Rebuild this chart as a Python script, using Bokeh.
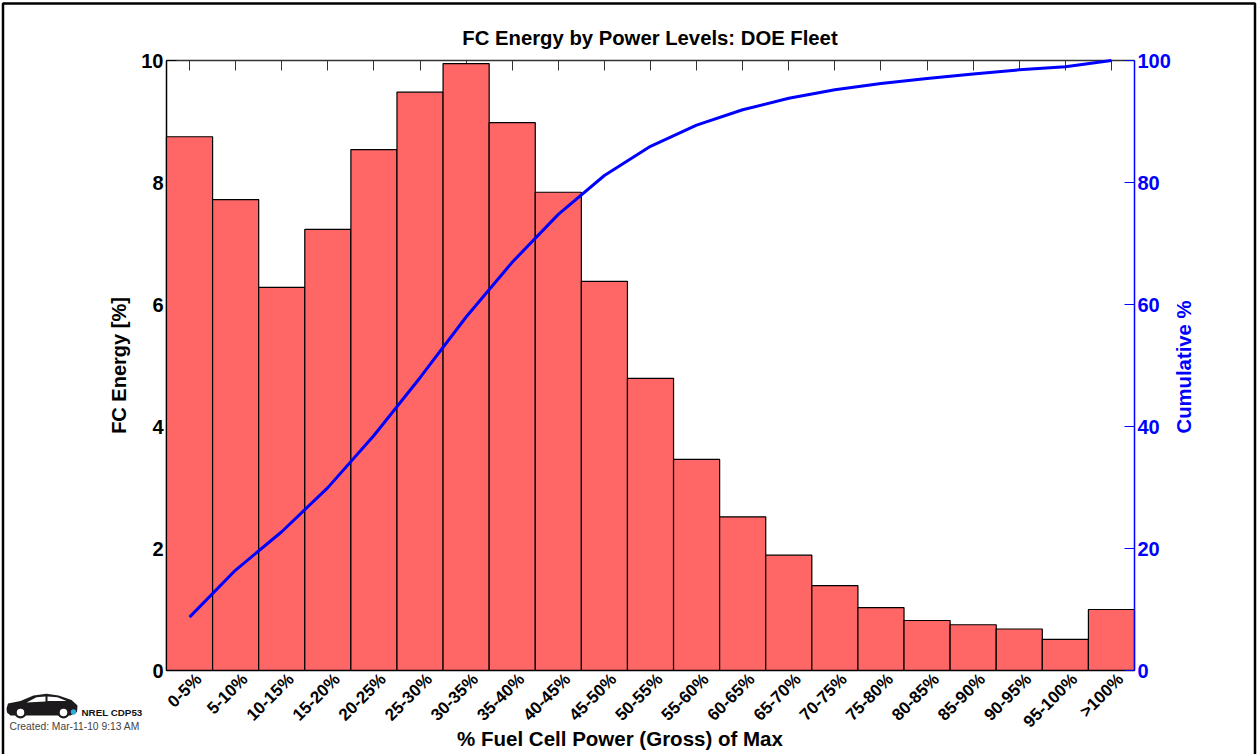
import math
from bokeh.core.properties import value
from bokeh.embed import file_html
from bokeh.models import FixedTicker, LinearAxis, Range1d
from bokeh.plotting import figure
from bokeh.resources import INLINE

categories = ["0-5%", "5-10%", "10-15%", "15-20%", "20-25%", "25-30%", "30-35%", "35-40%", "40-45%",
              "45-50%", "50-55%", "55-60%", "60-65%", "65-70%", "70-75%", "75-80%", "80-85%", "85-90%",
              "90-95%", "95-100%", ">100%"]
energy = [8.75, 7.72, 6.28, 7.23, 8.54, 9.48, 9.95, 8.98, 7.84, 6.38, 4.79, 3.46, 2.52, 1.89, 1.39,
          1.03, 0.82, 0.75, 0.68, 0.51, 1.0]
cumulative = [8.75, 16.47, 22.75, 29.98, 38.52, 48.0, 57.95, 66.93, 74.77, 81.15, 85.94, 89.4, 91.92,
              93.81, 95.2, 96.23, 97.05, 97.8, 98.48, 98.99, 100.0]
left_ticks = [0, 2, 4, 6, 8, 10]
right_ticks = [0, 20, 40, 60, 80, 100]
positions = list(range(len(categories)))

FONT = "Liberation Sans"
BLUE = "#0000ff"

p = figure(width=1257, height=754, output_backend="svg", toolbar_location=None,
           x_range=Range1d(-0.5, 20.5), y_range=Range1d(0, 10), x_axis_location=None, y_axis_location=None,
           min_border_left=166, min_border_right=123, min_border_top=60, min_border_bottom=84,
           frame_width=968, frame_height=610)
p.extra_y_ranges = {"cum": Range1d(0, 100)}
# label axis: its ticks sit a fifth of a category to the right so rotated labels end as in the reference
p.extra_x_ranges = {"labels": Range1d(-0.7, 20.3)}
p.outline_line_color = None
p.grid.visible = False

# bars and line sit above the left and top ticks, which they hide as in the reference
p.vbar(x=positions, top=energy, width=1.0, bottom=0, fill_color="#ff6666", fill_alpha=1,
       line_color="black", line_width=1.2, level="annotation")
p.line(x=positions, y=cumulative, y_range_name="cum", line_color=BLUE, line_width=3, level="annotation")

left = LinearAxis(ticker=FixedTicker(ticks=left_ticks), axis_label="FC Energy [%]")
right = LinearAxis(ticker=FixedTicker(ticks=right_ticks), y_range_name="cum")
right.level = "overlay"
bottom = LinearAxis(x_range_name="labels", ticker=FixedTicker(ticks=positions),
                    major_label_overrides={i: c for i, c in enumerate(categories)})
bottom.level = "overlay"
top = LinearAxis(ticker=FixedTicker(ticks=positions), major_label_text_color=None,
                 major_label_text_font_size="1px", major_label_standoff=0)

for ax, col in ((left, "black"), (right, BLUE), (bottom, "black"), (top, "#333333")):
    ax.axis_line_color = col
    ax.axis_line_width = 1.5
    ax.major_tick_line_color = col
    ax.major_tick_line_width = 1
    ax.minor_tick_line_color = None
    ax.major_tick_in = 10
    ax.major_tick_out = 0
    ax.axis_label_text_font = FONT
    ax.axis_label_text_font_style = "bold"
    ax.axis_label_text_font_size = "20px"
    ax.major_label_text_font = FONT
    ax.major_label_text_font_style = "bold"

for ax, col in ((left, "black"), (right, BLUE)):
    ax.major_label_text_color = col
    ax.axis_label_text_color = col
    ax.major_label_text_font_size = "20px"
    ax.major_label_standoff = 3

bottom.major_tick_in = 0
bottom.major_tick_line_color = None
bottom.major_label_text_font_size = "17px"
bottom.major_label_text_color = "black"
bottom.major_label_orientation = math.pi / 4
bottom.major_label_standoff = 6
left.axis_label_standoff = 8

p.add_layout(left, "left")
p.add_layout(right, "right")
p.add_layout(bottom, "below")
p.add_layout(top, "above")

# transparent sheet over the whole page for the page frame, logo, title and captions
ov = figure(width=1257, height=754, output_backend="svg", toolbar_location=None,
            x_range=Range1d(0, 1257), y_range=Range1d(754, 0), x_axis_location=None, y_axis_location=None,
            min_border=0, min_border_left=0, min_border_right=0, min_border_top=0, min_border_bottom=0,
            styles={"position": "absolute", "left": "0", "top": "0", "pointer-events": "none"})
ov.outline_line_color = None
ov.grid.visible = False
ov.background_fill_alpha = 0
ov.border_fill_alpha = 0

ov.patch([2.5, 1254.5, 1254.5, 2.5, 2.5], [3, 3, 770, 770, 3], fill_alpha=0, line_color="black", line_width=2.5)

car_x = [6, 7.5, 20, 33, 46, 58, 71, 77, 76.5, 70, 10, 6.5]
car_y = [708, 703, 700.5, 695, 693.3, 695, 699.5, 705, 711.5, 715, 715, 712]
ov.patch(car_x, car_y, fill_color="#1c1a1c", line_color=None)
ov.patch([26, 36, 45, 45], [702, 696.7, 696, 701], fill_color="white", line_color=None)
ov.patch([47, 57, 66, 47], [696, 696.7, 700.5, 700.5], fill_color="white", line_color=None)
ov.scatter([20, 63], [712, 712], size=12, fill_color="#1c1a1c", line_color=None)
ov.scatter([20, 63], [712, 712], size=7.5, fill_color="white", line_color=None)
ov.scatter([73], [711.5], size=5.5, fill_color="#30a8e0", line_color=None)

ov.text([81], [711.5], text=["NREL CDP53"], text_font=value(FONT), text_font_style="bold",
        text_font_size="9.8px", text_color="#111111", text_baseline="middle", text_align="left")
ov.text([9], [725.5], text=["Created: Mar-11-10  9:13 AM"], text_font=value(FONT),
        text_font_size="10.3px", text_color="#444444", text_baseline="middle", text_align="left")
ov.text([619.5], [738], text=["% Fuel Cell Power (Gross) of Max"], text_font=value(FONT),
        text_font_style="bold", text_font_size="20.5px", text_color="black",
        text_baseline="middle", text_align="center")
ov.text([649.5], [37], text=["FC Energy by Power Levels: DOE Fleet"], text_font=value(FONT),
        text_font_style="bold", text_font_size="20.3px", text_color="black",
        text_baseline="middle", text_align="center")
ov.text([1183], [366.5], text=["Cumulative %"], angle=math.pi / 2, text_font=value(FONT),
        text_font_style="bold", text_font_size="20.3px", text_color=BLUE,
        text_baseline="middle", text_align="center")

open("out.html", "w").write(file_html((p, ov), INLINE))
